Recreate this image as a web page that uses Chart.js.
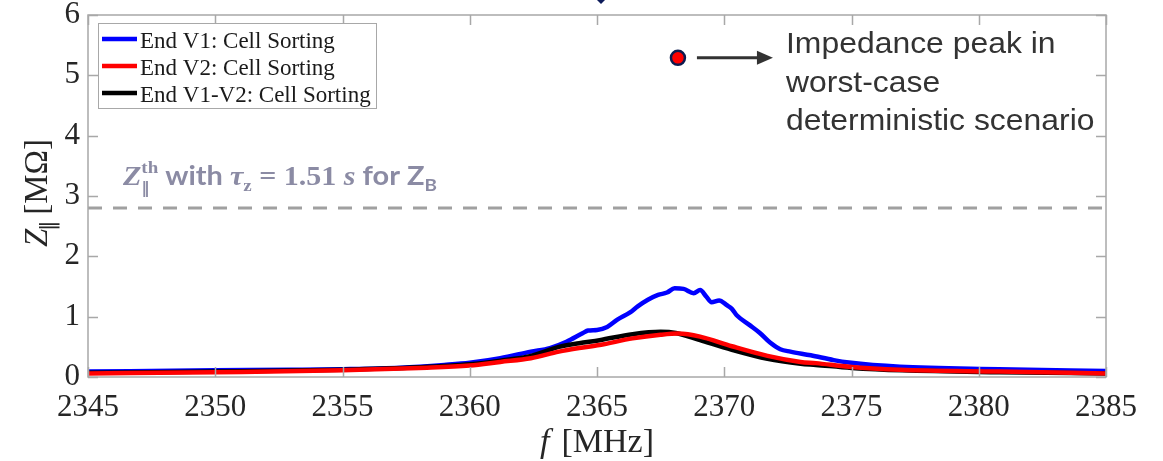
<!DOCTYPE html>
<html><head><meta charset="utf-8">
<script src="https://cdn.jsdelivr.net/npm/chart.js@4/dist/chart.umd.min.js"></script>
<style>html,body{margin:0;padding:0;background:#fff}canvas{display:block}</style>
</head><body>
<canvas id="c" width="1163" height="461"></canvas>
<script>
// ---- data ----
const xTicks = [2345, 2350, 2355, 2360, 2365, 2370, 2375, 2380, 2385];
const yTicks = [0, 1, 2, 3, 4, 5, 6];

const blueF = [2345, 2350, 2353, 2355, 2357.3, 2359, 2360, 2361.2, 2362.4, 2363.15, 2363.8, 2364.45, 2364.65, 2365.0, 2365.4, 2365.8, 2366.3, 2366.6, 2367.0, 2367.4, 2367.75, 2368.05, 2368.4, 2368.8, 2369.05, 2369.3, 2369.5, 2369.8, 2370.1, 2370.3, 2370.5, 2371.0, 2371.4, 2371.8, 2372.2, 2372.6, 2373.4, 2374.3, 2374.9, 2376.9, 2380.8, 2385];
const blueZ = [0.09, 0.11, 0.12, 0.13, 0.155, 0.2, 0.235, 0.31, 0.42, 0.48, 0.585, 0.73, 0.77, 0.78, 0.83, 0.95, 1.07, 1.17, 1.28, 1.36, 1.40, 1.47, 1.46, 1.39, 1.44, 1.33, 1.24, 1.27, 1.19, 1.13, 1.02, 0.86, 0.73, 0.57, 0.46, 0.42, 0.36, 0.28, 0.24, 0.17, 0.13, 0.10];

const redF = [2345, 2350, 2355, 2358, 2360, 2361.2, 2362.4, 2363.5, 2364.3, 2365.1, 2366.4, 2367.5, 2368.2, 2369.05, 2370.3, 2371.7, 2373.0, 2373.6, 2374.9, 2376.9, 2380.8, 2385];
const redZ = [0.06, 0.08, 0.11, 0.15, 0.19, 0.25, 0.31, 0.42, 0.48, 0.53, 0.64, 0.70, 0.72, 0.67, 0.51, 0.35, 0.25, 0.23, 0.17, 0.12, 0.09, 0.06];

const blackF = [2345, 2350, 2355, 2358, 2360, 2361.2, 2362.4, 2363.5, 2364.3, 2365.1, 2366.4, 2367.5, 2368.1, 2369.05, 2370.3, 2371.7, 2373.0, 2373.6, 2375, 2377, 2380.8, 2385];
const blackZ = [0.07, 0.09, 0.12, 0.16, 0.21, 0.27, 0.35, 0.50, 0.56, 0.61, 0.71, 0.75, 0.73, 0.61, 0.45, 0.30, 0.22, 0.20, 0.15, 0.11, 0.08, 0.06];

const thresholdF = [2345, 2385];
const thresholdZ = [2.8, 2.8];

const peakF = [2368.18];
const peakZ = [5.29];

const seriesLabels = ['End V1: Cell Sorting', 'End V2: Cell Sorting', 'End V1-V2: Cell Sorting'];
const peakLines = ['Impedance peak in', 'worst-case', 'deterministic scenario'];

const zip = (xs, ys) => xs.map((x, i) => ({x, y: ys[i]}));

// ---- plugin for MATLAB-like frame, legend, labels ----
const AX = '#a8a8a8';
const decor = {
  id: 'decor',
  afterDraw(chart) {
    const ctx = chart.ctx, a = chart.chartArea;
    const xs = chart.scales.x, ys = chart.scales.y;
    ctx.save();
    // frame
    ctx.strokeStyle = AX; ctx.lineWidth = 1.5;
    ctx.strokeRect(a.left, a.top, a.right - a.left, a.bottom - a.top);
    ctx.beginPath();
    xTicks.forEach(v => {
      const p = Math.round(xs.getPixelForValue(v)) + 0.5;
      ctx.moveTo(p, a.bottom); ctx.lineTo(p, a.bottom - 10);
      ctx.moveTo(p, a.top); ctx.lineTo(p, a.top + 10);
    });
    yTicks.forEach(v => {
      const p = Math.round(ys.getPixelForValue(v)) + 0.5;
      ctx.moveTo(a.left, p); ctx.lineTo(a.left + 10, p);
      ctx.moveTo(a.right, p); ctx.lineTo(a.right - 10, p);
    });
    ctx.stroke();

    // legend
    const lx = 98, ly = 23, lw = 278, lh = 85;
    ctx.fillStyle = '#fff';
    ctx.fillRect(lx, ly, lw, lh);
    ctx.strokeStyle = AX; ctx.lineWidth = 1;
    ctx.strokeRect(lx + 0.5, ly + 0.5, lw, lh);
    const cols = ['#0000ff', '#ff0000', '#000000'];
    ctx.font = '23px "Liberation Serif"';
    ctx.textBaseline = 'alphabetic'; ctx.textAlign = 'left';
    seriesLabels.forEach((t, i) => {
      const by = 48 + i * 27;
      ctx.strokeStyle = cols[i]; ctx.lineWidth = 4.5;
      ctx.beginPath(); ctx.moveTo(102, by - 9); ctx.lineTo(137, by - 9); ctx.stroke();
      ctx.fillStyle = '#1a1a1a';
      ctx.fillText(t, 140, by);
    });

    // y axis title (rotated): Z_∥ [MΩ]
    ctx.save();
    ctx.translate(47, 193);
    ctx.rotate(-Math.PI / 2);
    ctx.fillStyle = '#262626';
    const fZ = 'italic 33px "Liberation Serif"', fSub = '20px "DejaVu Serif"', fR = '33px "Liberation Serif"';
    ctx.font = fZ; const wZ = ctx.measureText('Z').width;
    ctx.font = fSub; const wS = ctx.measureText('\u2016').width;
    ctx.font = fR; const wR = ctx.measureText('[M\u03A9]').width;
    let sx = -(wZ + wS + 4 + wR) / 2;
    ctx.font = fZ; ctx.fillText('Z', sx, 0); sx += wZ;
    ctx.font = fSub; ctx.fillText('\u2016', sx - 2, 7); sx += wS + 4;
    ctx.font = fR; ctx.fillText('[M\u03A9]', sx, 0);
    ctx.restore();

    // x axis title: f [MHz]
    ctx.fillStyle = '#262626';
    ctx.font = 'italic 34px "Liberation Serif"';
    const wf = ctx.measureText('f').width;
    ctx.font = '34px "Liberation Serif"';
    const wm = ctx.measureText('[MHz]').width;
    let tx = 597 - (wf + 12 + wm) / 2;
    ctx.font = 'italic 34px "Liberation Serif"'; ctx.fillText('f', tx, 452);
    ctx.font = '34px "Liberation Serif"'; ctx.fillText('[MHz]', tx + wf + 12, 452);

    // threshold label
    const col = '#8b8ba4';
    const segs = [
      {t: 'Z', f: 'bold italic 27px "Liberation Serif"', dy: 0},
      {t: 'th', f: 'bold 17px "Liberation Serif"', dy: -12, stack: {t: '\u2016', f: 'bold 15px "DejaVu Sans"', dy: 8}},
      {t: ' with ', f: 'bold 26px Lato', dy: 0},
      {t: '\u03C4', f: 'bold italic 27px "Liberation Serif"', dy: 0},
      {t: 'z', f: 'bold 17px "Liberation Serif"', dy: 6},
      {t: ' = 1.51 ', f: 'bold 27px "Liberation Serif"', dy: 0},
      {t: 's', f: 'bold italic 27px "Liberation Serif"', dy: 0},
      {t: ' for ', f: 'bold 26px Lato', dy: 0},
      {t: 'Z', f: 'bold 26px Lato', dy: 0},
      {t: 'B', f: 'bold 17px Lato', dy: 6}
    ];
    let total = 0;
    segs.forEach(s => {
      ctx.font = s.f; let w = ctx.measureText(s.t).width;
      if (s.stack) { ctx.font = s.stack.f; w = Math.max(w, ctx.measureText(s.stack.t).width); }
      s.w = w; total += w;
    });
    ctx.save();
    ctx.translate(123, 185);
    ctx.scale(314 / total, 1);
    ctx.fillStyle = col;
    let cx = 0;
    segs.forEach(s => {
      ctx.font = s.f; ctx.fillText(s.t, cx, s.dy);
      if (s.stack) { ctx.font = s.stack.f; ctx.fillText(s.stack.t, cx, s.stack.dy); }
      cx += s.w;
    });
    ctx.restore();

    // peak annotation: arrow + text
    const px = xs.getPixelForValue(peakF[0]), py = ys.getPixelForValue(peakZ[0]);
    ctx.strokeStyle = '#333'; ctx.fillStyle = '#333'; ctx.lineWidth = 3;
    ctx.beginPath(); ctx.moveTo(px + 19, py); ctx.lineTo(px + 82, py); ctx.stroke();
    ctx.beginPath(); ctx.moveTo(px + 95, py); ctx.lineTo(px + 79, py - 7); ctx.lineTo(px + 79, py + 7); ctx.closePath(); ctx.fill();
    ctx.font = '29px "Liberation Sans"';
    ctx.fillStyle = '#333';
    ctx.save();
    ctx.translate(786, 0);
    ctx.scale(1.1, 1);
    peakLines.forEach((t, i) => ctx.fillText(t, 0, 53 + i * 38.5));
    ctx.restore();

    // clipped navy diamond at top (part of the surrounding figure)
    ctx.fillStyle = '#0d1b5a';
    ctx.beginPath(); ctx.moveTo(601, 4); ctx.lineTo(611, -6); ctx.lineTo(601, -16); ctx.lineTo(591, -6); ctx.closePath(); ctx.fill();
    ctx.restore();
  }
};

const lineDs = (label, xs, ys, color, order) => ({
  label, data: zip(xs, ys), borderColor: color, backgroundColor: color,
  borderWidth: 4.5, pointRadius: 0, fill: false, order,
  cubicInterpolationMode: 'monotone', borderJoinStyle: 'round', borderCapStyle: 'round'
});

const noPad = s => { s.paddingTop = 0; s.paddingBottom = 0; s.paddingLeft = 0; s.paddingRight = 0; };

new Chart(document.getElementById('c'), {
  type: 'line',
  data: {
    datasets: [
      {label: 'threshold', data: zip(thresholdF, thresholdZ), borderColor: '#a0a0a0', borderWidth: 3,
       borderDash: [14, 11], pointRadius: 0, fill: false, order: 5},
      lineDs(seriesLabels[0], blueF, blueZ, '#0000ff', 3),
      lineDs(seriesLabels[1], redF, redZ, '#ff0000', 1),
      lineDs(seriesLabels[2], blackF, blackZ, '#000000', 2),
      {label: 'peak', type: 'scatter', data: zip(peakF, peakZ), pointRadius: 7, pointBackgroundColor: '#ff0000',
       pointBorderColor: '#0d1b4f', pointBorderWidth: 2.5, showLine: false, order: 0}
    ]
  },
  options: {
    responsive: false, animation: false, devicePixelRatio: 1,
    layout: {autoPadding: false, padding: {left: 0, top: 15, right: 57, bottom: 0}},
    plugins: {legend: {display: false}, tooltip: {enabled: false}},
    scales: {
      x: {
        type: 'linear', min: 2345, max: 2385,
        afterFit: s => { s.height = 84; noPad(s); },
        afterBuildTicks: s => { s.ticks = xTicks.map(v => ({value: v})); },
        grid: {display: false, drawTicks: false}, border: {display: false},
        ticks: {font: {family: '"Liberation Serif"', size: 31}, color: '#262626', padding: 12, maxRotation: 0, autoSkip: false,
                callback: v => String(v)}
      },
      y: {
        type: 'linear', min: 0, max: 6,
        afterFit: s => { s.width = 88; noPad(s); },
        afterBuildTicks: s => { s.ticks = yTicks.map(v => ({value: v})); },
        grid: {display: false, drawTicks: false}, border: {display: false},
        ticks: {font: {family: '"Liberation Serif"', size: 31}, color: '#262626', padding: 8, callback: v => String(v)}
      }
    }
  },
  plugins: [decor]
});
</script>
</body></html>
